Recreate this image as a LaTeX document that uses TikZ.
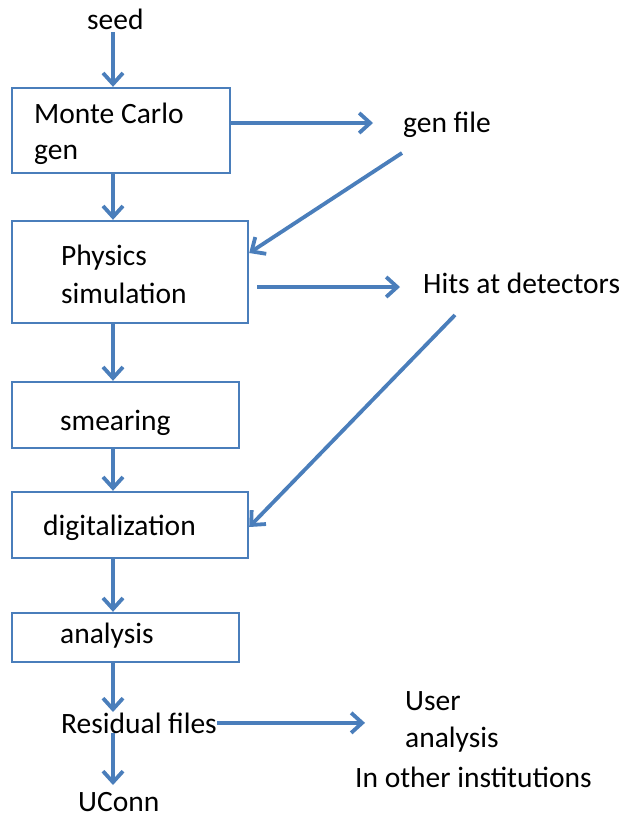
\documentclass[tikz,border=0pt]{standalone}
\usepackage{fontspec}
\setmainfont{Carlito}
\usetikzlibrary{arrows.meta}
\definecolor{lb}{RGB}{74,126,187}
\begin{document}
\begin{tikzpicture}[x=1pt,y=-1pt,
  box/.style={draw=lb, line width=2.4pt, inner sep=0pt},
  arr/.style={draw=lb, line width=3.8pt, -{Straight Barb[length=11pt,width=20pt]}},
  lbl/.style={inner sep=0pt, anchor=base west, font=\fontsize{29.5}{36}\selectfont}]
\useasboundingbox (0,0) rectangle (626,817);
\coordinate (col) at (113,0);
% boxes
\node[box, minimum width=218pt, minimum height=85pt] (mc) at (121,130.5) {};
\node[box, minimum width=236pt, minimum height=102pt] (phys) at (130,272) {};
\node[box, minimum width=227pt, minimum height=66pt] (smear) at (125.5,415) {};
\node[box, minimum width=236pt, minimum height=66pt] (digi) at (130,525) {};
\node[box, minimum width=227pt, minimum height=49pt] (anal) at (125.5,637.5) {};
% texts
\node[lbl] (seed) at (87,29) {seed};
\node[lbl] (mc1) at (34,123) {Monte Carlo};
\node[lbl] (mc2) at (34,159) {gen};
\node[lbl] (genfile) at (403,132) {gen file};
\node[lbl] (ph1) at (61,265) {Physics};
\node[lbl] (ph2) at (61,303) {simulation};
\node[lbl] (hits) at (423,293) {Hits at detectors};
\node[lbl] (smt) at (60,430) {smearing};
\node[lbl] (dgt) at (43,535) {digitalization};
\node[lbl] (ant) at (60,643) {analysis};
\node[lbl] (resid) at (61,733) {Residual files};
\node[lbl] (uconn) at (78,811) {UConn};
\node[lbl] (user1) at (405,710) {User};
\node[lbl] (user2) at (405,747) {analysis};
\node[lbl] (inst) at (355,787) {In other institutions};
% free ends
\coordinate (gfin) at (373,123);
\coordinate (gfout) at (402,153);
\coordinate (phout) at (257,287);
\coordinate (hitsin) at (400,287);
\coordinate (hitsout) at (455,315);
\coordinate (userin) at (365,722);
% vertical flow
\draw[arr] (seed.south -| col) ++(0,3) -- (mc.north -| col);
\draw[arr] (mc.south -| col) -- (phys.north -| col);
\draw[arr] (phys.south -| col) -- (smear.north -| col);
\draw[arr] (smear.south -| col) -- (digi.north -| col);
\draw[arr] (digi.south -| col) -- (anal.north -| col);
\draw[arr] (anal.south -| col) -- (113,712);
\draw[arr] (resid.base -| col) -- (113,785);
% side flow
\draw[arr] (mc.east |- gfin) -- (gfin);
\draw[arr] (gfout) -- ([yshift=19pt]phys.east);
\draw[arr] (phout) -- (hitsin);
\draw[arr] (hitsout) -- ([yshift=-2pt]digi.east);
\draw[arr] (resid.east) -- (resid.east -| userin);
\end{tikzpicture}
\end{document}
